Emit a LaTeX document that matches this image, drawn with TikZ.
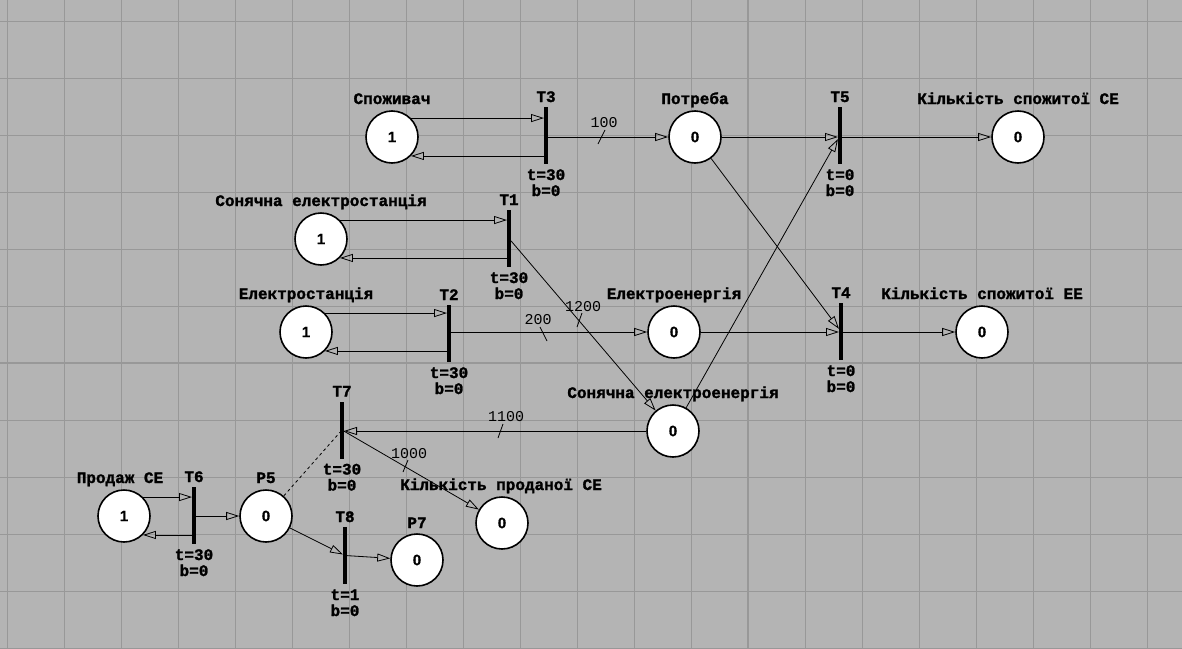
\documentclass[tikz,border=0pt]{standalone}
\usepackage{fontspec}
\newfontfamily\labfont{Liberation Mono}[BoldFeatures={FakeBold=1.5}]
\newfontfamily\tokfont{Liberation Sans}[BoldFeatures={FakeBold=1}]
\usetikzlibrary{arrows.meta}
\definecolor{bg}{RGB}{180,180,180}
\definecolor{gridc}{RGB}{152,152,152}
\tikzset{
  place/.style={circle, draw=black, line width=1.6pt, fill=white, minimum size=52pt, inner sep=0pt,
    font=\tokfont\bfseries\fontsize{15}{15}\selectfont},
  trans/.style={rectangle, fill=black, minimum width=4pt, minimum height=57pt, inner sep=0pt, outer sep=0pt},
  lab/.style={font=\labfont\bfseries\fontsize{16}{16}\selectfont, anchor=base, inner sep=0pt},
  wlab/.style={font=\labfont\fontsize{15}{15}\selectfont, anchor=base, inner sep=0pt},
  arc/.style={line width=0.8pt, -{Triangle[open, length=13pt, width=8pt, line width=0.8pt]}},
  tickmark/.style={line width=0.8pt},
  gridline/.style={draw=gridc, line width=1pt},
  majorline/.style={draw=gridc, line width=2pt},
}
\begin{document}
\begin{tikzpicture}[x=1pt,y=-1pt]
\useasboundingbox (0,0) rectangle (1182,648);
\fill[bg] (0,0) rectangle (1182,648);
\foreach \i in {0,...,20} {\draw[gridline] ({7+57*\i},0) -- ({7+57*\i},648);}
\foreach \j in {0,...,11} {\draw[gridline] (0,{21+57*\j}) -- (1182,{21+57*\j});}
\draw[majorline] (748,0) -- (748,648);
\draw[majorline] (0,363) -- (1182,363);

% places
\node[place] (Spo) at (392,137) {1};
\node[place] (Pot) at (695,137) {0};
\node[place] (KSE) at (1018,137) {0};
\node[place] (SES) at (321,239) {1};
\node[place] (ES) at (306,332) {1};
\node[place] (EE) at (674,332) {0};
\node[place] (KEE) at (982,332) {0};
\node[place] (SEE) at (673,431) {0};
\node[place] (PSE) at (124,516) {1};
\node[place] (P5) at (266,516) {0};
\node[place] (KPSE) at (502,523) {0};
\node[place] (P7) at (417,560) {0};

% place labels
\node[lab] (lSpo) at (392,104) {Споживач};
\node[lab] (lPot) at (695,104) {Потреба};
\node[lab] (lKSE) at (1018,104) {Кількість спожитої СЕ};
\node[lab] (lSES) at (321,206) {Сонячна електростанція};
\node[lab] (lES) at (306,299) {Електростанція};
\node[lab] (lEE) at (674,299) {Електроенергія};
\node[lab] (lKEE) at (982,299) {Кількість спожитої ЕЕ};
\node[lab] (lSEE) at (673,398) {Сонячна електроенергія};
\node[lab] (lPSE) at (120,483) {Продаж СЕ};
\node[lab] (lP5) at (266,483) {P5};
\node[lab] (lKPSE) at (501,490) {Кількість проданої СЕ};
\node[lab] (lP7) at (417,528) {P7};

% transitions
\node[trans] (T3) at (546,135.5) {};
\node[trans] (T1) at (509,238.5) {};
\node[trans] (T2) at (449,333.5) {};
\node[trans] (T5) at (840,135.5) {};
\node[trans] (T4) at (841,331.5) {};
\node[trans] (T7) at (342,430) {};
\node[trans] (T6) at (194,515.5) {};
\node[trans] (T8) at (345,555.5) {};

% transition labels
\foreach \n/\x/\yt/\yb/\tt in {T3/546/107/164/30, T1/509/210/267/30, T2/449/305/362/30, T5/840/107/164/0, T4/841/303/360/0, T7/342/401.5/458.5/30, T6/194/487/544/30, T8/345/527/584/1} {
  \node[lab] (l\n) at (\x,\yt-5) {\n};
  \node[lab] (t\n) at (\x,\yb+16) {t=\tt};
  \node[lab] (b\n) at (\x,\yb+32) {b=0};
}

% arcs
\draw[arc] (Spo.45) -- (Spo.45 -| T3.west);
\draw[arc] (Spo.-45 -| T3.west) -- (Spo.-45);
\draw[arc] (T3.east |- Pot) -- (Pot);
\draw[arc] (Pot) -- (Pot -| T5.west);
\draw[arc] (T5.east |- KSE) -- (KSE);
\draw[arc] (Pot) -- (T4);
\draw[arc] (SEE) -- (T5);
\draw[arc] (SES.45) -- (SES.45 -| T1.west);
\draw[arc] (SES.-45 -| T1.west) -- (SES.-45);
\draw[arc] (T1) -- (SEE);
\draw[arc] (ES.45) -- (ES.45 -| T2.west);
\draw[arc] (ES.-45 -| T2.west) -- (ES.-45);
\draw[arc] (T2.east |- EE) -- (EE);
\draw[arc] (EE) -- (EE -| T4.west);
\draw[arc] (T4.east |- KEE) -- (KEE);
\draw[arc] (SEE) -- (SEE -| T7.east);
\draw[arc] (T7) -- (KPSE);
\draw[line width=0.8pt, dashed] (P5) -- (T7);
\draw[arc] (PSE.45) -- (PSE.45 -| T6.west);
\draw[arc] (PSE.-45 -| T6.west) -- (PSE.-45);
\draw[arc] (T6.east |- P5) -- (P5);
\draw[arc] (P5) -- (T8);
\draw[arc] (T8) -- (P7);

% weights
\node[wlab] (w100) at (604,127) {100};
\draw[tickmark] (605,130) -- (598,144);
\node[wlab] (w200) at (538,324) {200};
\draw[tickmark] (540,327) -- (547,341);
\node[wlab] (w1200) at (583,311) {1200};
\draw[tickmark] (582,313) -- (577,327);
\node[wlab] (w1100) at (506,421) {1100};
\draw[tickmark] (503,424) -- (498,438);
\node[wlab] (w1000) at (409,458) {1000};
\draw[tickmark] (408,460) -- (403,472);
\end{tikzpicture}
\end{document}
